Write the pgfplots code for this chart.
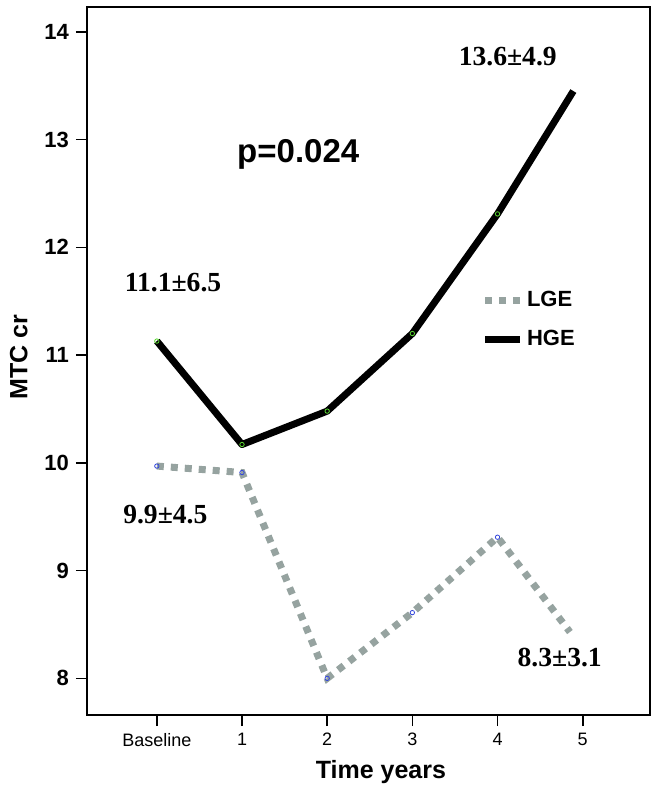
\documentclass[border=0pt]{standalone}
\usepackage{pgfplots}
\pgfplotsset{compat=1.18}
\usepackage{fontspec}
\setmainfont{Liberation Serif}
\setsansfont{Liberation Sans}
\definecolor{lgegray}{RGB}{150,163,160}
\definecolor{dotgreen}{RGB}{90,215,50}
\definecolor{dotblue}{RGB}{50,70,220}

\begin{document}
\begin{tikzpicture}
\begin{axis}[
  scale only axis, width=281.5pt, height=354pt,
  xmin=-0.82, xmax=5.79, ymin=7.66, ymax=14.23,
  xtick={0,...,5}, xticklabels={Baseline,1,2,3,4,5},
  ytick={8,...,14},
  xtick pos=lower, ytick pos=left,
  tick align=outside, major tick length=5.5pt,
  tick style={black, line width=0.8pt},
  axis line style={black, line width=0.9pt},
  x tick label style={font=\sffamily\fontsize{9}{10}\selectfont},
  y tick label style={font=\sffamily\bfseries\fontsize{11}{12}\selectfont},
  /pgf/number format/assume math mode=true,
  xlabel={Time years}, ylabel={MTC cr},
  label style={font=\sffamily\bfseries\fontsize{12.5}{14}\selectfont},
  xlabel style={at={(axis description cs:0.522,-0.081)}, anchor=center},
  ylabel style={at={(axis description cs:-0.121,0.505)}, anchor=center},
  legend style={at={(rel axis cs:0.69,0.61)}, anchor=north west, draw=none, fill=none,
    font=\sffamily\bfseries\fontsize{11}{12}\selectfont, row sep=6pt},
  legend cell align=left,
  clip=false,
]

% LGE group
\addplot[lgegray, line width=3.5pt, dash pattern=on 3.5pt off 3.5pt]
  coordinates {(0,9.97) (1,9.91) (2,8.0) (3,8.61) (4,9.31) (4.85,8.43)};
\addlegendentry{LGE}

% HGE group
\addplot[black, line width=3.5pt, line join=round]
  coordinates {(0,11.13) (1,10.17) (2,10.48) (3,11.2) (4,12.31) (4.89,13.45)};
\addlegendentry{HGE}

% small point markers
\addplot[only marks, mark=o, mark size=1.1pt, dotblue, forget plot]
  coordinates {(0,9.97) (1,9.91) (2,8.0) (3,8.61) (4,9.31)};
\addplot[only marks, mark=o, mark size=1.1pt, dotgreen, forget plot]
  coordinates {(0,11.13) (1,10.17) (2,10.48) (3,11.2) (4,12.31)};

\node[font=\bfseries\fontsize{13.8}{15}\selectfont] at (axis cs:0.19,11.67) {11.1±6.5};
\node[font=\bfseries\fontsize{13.8}{15}\selectfont] at (axis cs:4.12,13.77) {13.6±4.9};
\node[font=\bfseries\fontsize{13.8}{15}\selectfont] at (axis cs:0.10,9.52) {9.9±4.5};
\node[font=\bfseries\fontsize{13.8}{15}\selectfont] at (axis cs:4.73,8.19) {8.3±3.1};
\node[font=\sffamily\bfseries\fontsize{16.5}{18}\selectfont] at (axis cs:1.66,12.86) {p=0.024};

\end{axis}
\path (current axis.south west) ++(-43.5pt,-38pt);
\path (current axis.north east) ++(4.5pt,3.5pt);
\end{tikzpicture}
\end{document}
